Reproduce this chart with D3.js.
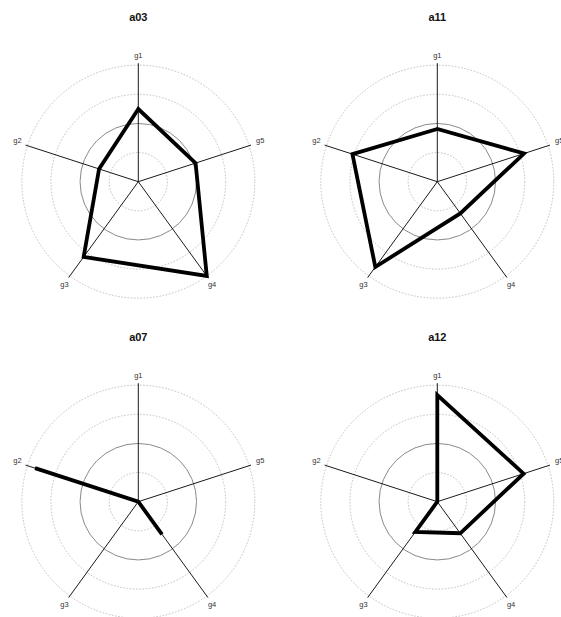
<!DOCTYPE html>
<html>
<head>
<meta charset="utf-8">
<script src="https://cdn.jsdelivr.net/npm/d3@7"></script>
<style>
  html, body { margin: 0; padding: 0; background: #fff; }
  svg { display: block; }
</style>
</head>
<body>
<svg id="chart" width="561" height="617"></svg>
<script>
// Variables (axes), listed counter-clockwise starting from the top
const axes = ["g1", "g2", "g3", "g4", "g5"];

// Each panel's name and its scaled values for g1..g5
const panelNames = ["a03", "a11", "a07", "a12"];
const a03 = [0.624, 0.354, 0.798, 1.0, 0.517];
const a11 = [0.452, 0.766, 0.905, 0.336, 0.783];
const a07 = [0.0, 0.932, 0.0, 0.346, 0.0];
const a12 = [0.916, 0.0, 0.321, 0.335, 0.779];
const panelValues = [a03, a11, a07, a12];

// Grid rings (fractions of the full scale); the middle one is drawn solid
const gridLevels = [0.25, 0.5, 0.75, 1.0];
const solidLevel = 0.5;

const svg = d3.select("#chart");
svg.append("rect").attr("width", 561).attr("height", 617).attr("fill", "#fff");

const R = 116.5;          // outer ring radius
const axisLen = 118.5;    // spoke length
const r = d3.scaleLinear().domain([0, 1]).range([0, R]);
const angleOf = i => -i * 2 * Math.PI / axes.length;   // radians, 0 = up, clockwise +

const centers = [[138.3, 181.7], [437.3, 181.7], [138.3, 501.7], [437.3, 501.7]];

panelNames.forEach((name, p) => {
  const [cx, cy] = centers[p];
  const g = svg.append("g").attr("transform", `translate(${cx},${cy})`);

  // title
  g.append("text")
    .attr("x", 0).attr("y", -161)
    .attr("text-anchor", "middle")
    .attr("font-family", "Liberation Sans, Arial, sans-serif")
    .attr("font-weight", "bold")
    .attr("font-size", 11)
    .attr("fill", "#111")
    .text(name);

  // rings
  g.selectAll("circle.ring").data(gridLevels).join("circle")
    .attr("class", "ring")
    .attr("r", d => r(d))
    .attr("fill", "none")
    .attr("stroke", d => d === solidLevel ? "#8a8a8a" : "#a8a8a8")
    .attr("stroke-width", d => d === solidLevel ? 1 : 0.7)
    .attr("stroke-dasharray", d => d === solidLevel ? null : "1.6,1.6");

  // spokes
  const pt = (i, rad) => [Math.sin(angleOf(i)) * rad, -Math.cos(angleOf(i)) * rad];
  g.selectAll("line.spoke").data(axes).join("line")
    .attr("class", "spoke")
    .attr("x1", 0).attr("y1", 0)
    .attr("x2", (d, i) => pt(i, axisLen)[0])
    .attr("y2", (d, i) => pt(i, axisLen)[1])
    .attr("stroke", "#000")
    .attr("stroke-width", 0.9);

  // axis labels
  const labelSpec = {
    g1: { anchor: "middle", dx: 0, dy: -5 },
    g2: { anchor: "end", dx: -4, dy: -2 },
    g3: { anchor: "end", dx: 0, dy: 9.5 },
    g4: { anchor: "start", dx: 0, dy: 9.5 },
    g5: { anchor: "start", dx: 5, dy: -2 }
  };
  g.selectAll("text.axlab").data(axes).join("text")
    .attr("class", "axlab")
    .attr("x", (d, i) => pt(i, axisLen)[0] + labelSpec[d].dx)
    .attr("y", (d, i) => pt(i, axisLen)[1] + labelSpec[d].dy)
    .attr("text-anchor", d => labelSpec[d].anchor)
    .attr("font-family", "Liberation Sans, Arial, sans-serif")
    .attr("font-size", 7.5)
    .attr("fill", "#333")
    .text(d => d);

  // data polygon
  const line = d3.lineRadial()
    .angle((d, i) => angleOf(i))
    .radius(d => r(d))
    .curve(d3.curveLinearClosed);
  g.append("path")
    .attr("d", line(panelValues[p]))
    .attr("fill", "none")
    .attr("stroke", "#000")
    .attr("stroke-width", 3.8)
    .attr("stroke-linejoin", "miter");
});
</script>
</body>
</html>
